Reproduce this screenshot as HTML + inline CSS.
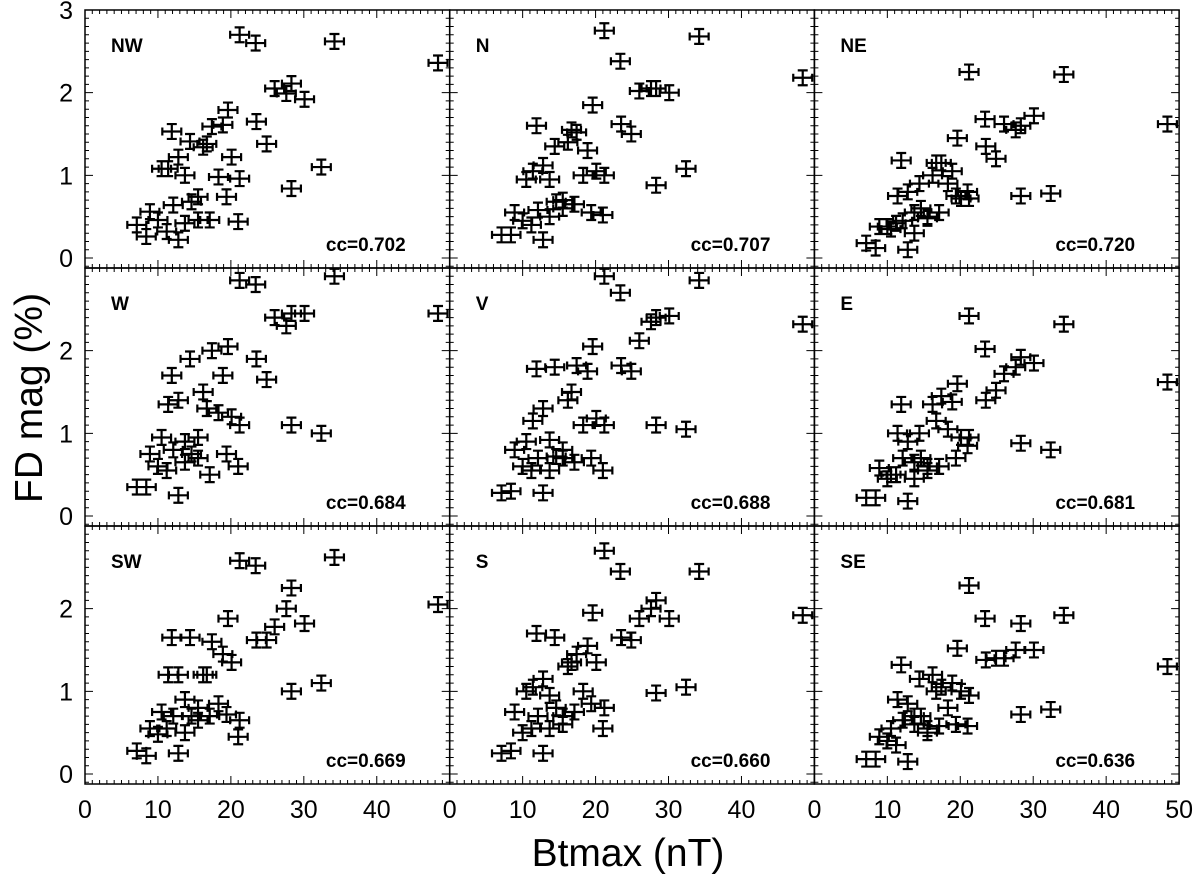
<!DOCTYPE html>
<html><head><meta charset="utf-8"><style>
html,body{margin:0;padding:0;background:#fff;}
svg{display:block;font-family:"Liberation Sans",sans-serif;}
</style></head><body>
<svg id="chart" width="1200" height="882" viewBox="0 0 1200 882" xmlns="http://www.w3.org/2000/svg"></svg>
<script>
const btmax = [21.2,23.4,34.2,48.4,26.0,28.3,30.1,27.6,19.6,23.5,11.9,17.4,18.9,14.4,16.7,24.9,12.8,20.1,32.4,11.4,13.7,18.3,21.2,28.3,15.5,19.4,12.1,8.9,10.0,7.1,8.4,11.2,12.8,13.7,15.5,17.1,21.0,14.6,10.5,16.2];
const panelNames = ["NW","N","NE","W","V","E","SW","S","SE"];
const ccValues = ["0.702","0.707","0.720","0.684","0.688","0.681","0.669","0.660","0.636"];
const fdNW = [2.70,2.60,2.62,2.36,2.05,2.11,1.92,1.99,1.79,1.65,1.53,1.59,1.61,1.41,1.38,1.38,1.22,1.22,1.10,1.08,1.00,0.98,0.96,0.84,0.74,0.74,0.64,0.56,0.46,0.40,0.26,0.32,0.22,0.42,0.46,0.46,0.44,0.68,1.08,1.34];
const fdN = [2.75,2.38,2.68,2.18,2.02,2.05,2.00,2.05,1.85,1.62,1.60,1.52,1.30,1.35,1.55,1.50,1.12,1.05,1.08,1.05,0.95,1.00,1.00,0.88,0.70,0.55,0.58,0.55,0.45,0.28,0.28,0.40,0.22,0.50,0.60,0.65,0.52,0.68,0.95,1.40];
const fdNE = [2.25,1.68,2.22,1.62,1.62,1.60,1.72,1.55,1.45,1.35,1.18,1.15,1.05,0.90,1.15,1.20,0.80,0.72,0.78,0.75,0.55,0.90,0.72,0.75,0.50,0.75,0.45,0.38,0.38,0.18,0.12,0.42,0.10,0.30,0.48,0.55,0.80,0.60,0.35,1.00];
const fdW = [2.85,2.80,2.90,2.45,2.40,2.45,2.45,2.30,2.05,1.90,1.70,2.00,1.70,1.90,1.30,1.65,1.40,1.20,1.00,1.35,0.90,1.25,1.10,1.10,0.95,0.75,0.80,0.75,0.60,0.35,0.35,0.55,0.25,0.65,0.70,0.50,0.60,0.75,0.95,1.50];
const fdV = [2.90,2.70,2.85,2.32,2.12,2.40,2.42,2.35,2.05,1.82,1.78,1.82,1.75,1.80,1.50,1.75,1.30,1.18,1.05,1.15,0.92,1.10,1.10,1.10,0.80,0.70,0.70,0.80,0.60,0.28,0.30,0.55,0.28,0.55,0.70,0.65,0.55,0.72,0.90,1.40];
const fdE = [2.42,2.02,2.32,1.62,1.72,1.92,1.85,1.80,1.60,1.40,1.35,1.45,1.38,1.00,1.15,1.52,0.90,0.95,0.80,1.00,0.65,1.05,0.95,0.88,0.60,0.70,0.70,0.58,0.45,0.22,0.22,0.50,0.18,0.45,0.55,0.60,0.85,0.70,0.50,1.35];
const fdSW = [2.58,2.52,2.62,2.05,1.78,2.25,1.82,2.00,1.88,1.62,1.65,1.60,1.45,1.65,1.20,1.62,1.20,1.35,1.10,1.20,0.90,0.85,0.65,1.00,0.80,0.72,0.70,0.55,0.48,0.28,0.22,0.55,0.25,0.50,0.65,0.70,0.45,0.70,0.75,1.20];
const fdS = [2.70,2.45,2.45,1.92,1.88,2.10,1.88,2.00,1.95,1.65,1.70,1.45,1.55,1.65,1.35,1.62,1.15,1.35,1.05,1.05,0.95,1.00,0.80,0.98,0.70,0.85,0.70,0.75,0.50,0.25,0.28,0.55,0.25,0.55,0.60,0.75,0.55,0.80,1.00,1.30];
const fdSE = [2.28,1.88,1.92,1.30,1.40,1.82,1.50,1.50,1.52,1.38,1.32,1.05,1.10,1.15,1.00,1.40,0.85,1.00,0.78,0.90,0.70,0.80,0.95,0.72,0.55,0.60,0.65,0.45,0.40,0.18,0.18,0.35,0.15,0.60,0.50,0.58,0.58,0.70,0.55,1.20];
const xTicks = [0,10,20,30,40];
const yTicks = [0,1,2];

const fdSeries = [fdNW,fdN,fdNE,fdW,fdV,fdE,fdSW,fdS,fdSE];
const svg = document.getElementById('chart');
const NS = 'http://www.w3.org/2000/svg';
const L0 = 85, PW = 364.7, T0 = 10, PH = 258, XMAX = 50, YTOP = 3.0, Y0OFF = 248;
function mk(tag, attrs, parent){const e=document.createElementNS(NS,tag);for(const k in attrs)e.setAttribute(k,attrs[k]);(parent||svg).appendChild(e);return e;}
function xs(c,v){return L0 + c*PW + v/XMAX*PW;}
function ys(r,v){return T0 + r*PH + Y0OFF - v/YTOP*Y0OFF;}

for(let p=0;p<9;p++){
  const r=Math.floor(p/3), c=p%3;
  const g = mk('g',{});
  
  
  const left=L0+c*PW, top=T0+r*PH;
  const frame = mk('rect',{x:left,y:top,width:PW,height:PH,fill:'none',stroke:'#000','stroke-width':1.5},g);
  
  
  let d='';
  for(let v=0;v<=50;v+=1){
    const x=xs(c,v); const len = v%10===0?8:4;
    d+=`M${x},${top+PH}v${-len}M${x},${top}v${len}`;
  }
  for(let k=-1;k<=30;k++){
    const v=k/10; const y=ys(r,v); if(y<top||y>top+PH) continue;
    const len = k%10===0?8:4;
    d+=`M${left},${y}h${len}M${left+PW},${y}h${-len}`;
  }
  const ticks = mk('path',{d:d,stroke:'#000','stroke-width':1,fill:'none'},g);
  
  
  const fd=fdSeries[p];
  let m='';
  for(let i=0;i<btmax.length;i++){
    const x=xs(c,btmax[i]), y=ys(r,fd[i]);
    const xe=1.3/XMAX*PW, ye=0.09/YTOP*Y0OFF;
    m+=`M${x-xe},${y}H${x+xe}M${x},${y-ye}V${y+ye}`;
    m+=`M${x-xe},${y-4}v8M${x+xe},${y-4}v8M${x-5},${y-ye}h10M${x-5},${y+ye}h10`;
  }
  const pts = mk('path',{d:m,stroke:'#000','stroke-width':2.2,fill:'none'},g);
  
  
  const lbl = mk('text',{x:left+26,y:top+42,'font-size':19,'font-weight':'bold'},g);
  lbl.textContent=panelNames[p];
  
  
  const cc = mk('text',{x:left+PW-44,y:top+241,'font-size':19,'font-weight':'bold','text-anchor':'end'},g);
  cc.textContent='cc='+ccValues[p];
  
  
}
for(let r=0;r<3;r++){
  const labs = r===0 ? [0,1,2,3] : yTicks;
  for(const v of labs){
    const t=mk('text',{x:73,y:ys(r,v)+9,'font-size':25,'text-anchor':'end'});
    t.textContent=v;
    
    
  }
}
for(let c=0;c<3;c++){
  const labs = c===2 ? xTicks.concat([50]) : xTicks;
  for(const v of labs){
    const t=mk('text',{x:xs(c,v),y:818,'font-size':25,'text-anchor':'middle'});
    t.textContent=v;
    
    
  }
}
const xt=mk('text',{x:628,y:866,'font-size':39,'text-anchor':'middle'});
xt.textContent='Btmax (nT)';


const yt=mk('text',{x:0,y:0,'font-size':39,'text-anchor':'middle',transform:'translate(42,398) rotate(-90)'});
yt.textContent='FD mag (%)';


</script>
</body></html>
